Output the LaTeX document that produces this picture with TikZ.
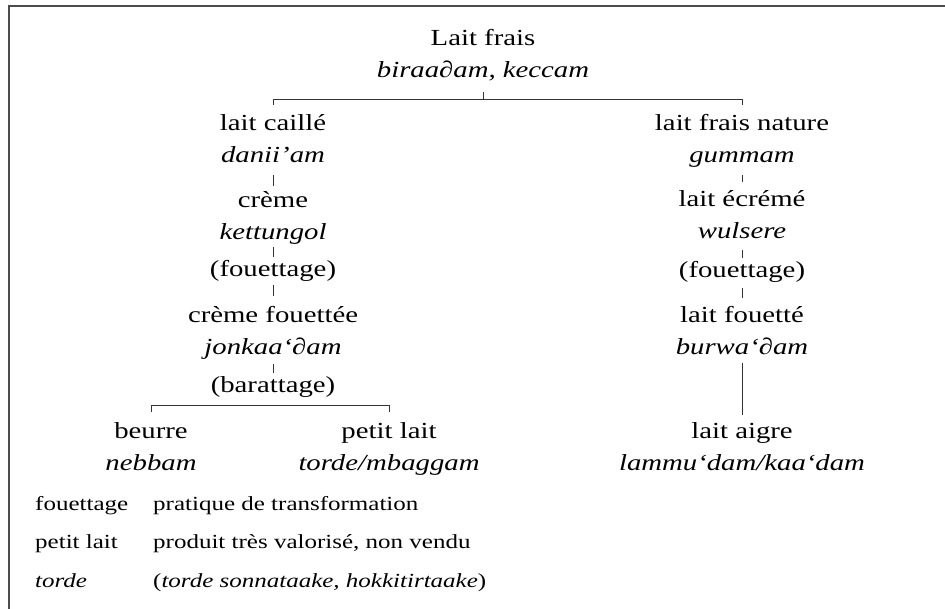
\documentclass[tikz,border=0pt]{standalone}
\usepackage{fontspec}
\setmainfont[FakeStretch=1.25]{Liberation Serif}
\begin{document}
\begin{tikzpicture}[x=1pt,y=-1pt,
  term/.style={align=center,inner sep=0pt,anchor=base,font=\fontsize{23}{32}\selectfont,text=black},
  legend/.style={anchor=base west,inner sep=0pt,font=\fontsize{20}{24}\selectfont,text=black},
  link/.style={draw=black!80,line width=1pt},
  brack/.style={draw=black!80,line width=1pt},
  frame/.style={draw=black!70,line width=1.8pt}]
\useasboundingbox (0,0) rectangle (945,609);
\coordinate (f0) at (9,6);
\coordinate (f1) at (945,6);
\coordinate (f2) at (9,609);
\draw[frame] (f2) -- (f0) -- (f1);
% nodes (anchored at the baseline of their last line)
\node[term] (top) at (483,78) {\strut Lait frais\\\strut\textit{biraa∂am, keccam}};
\node[term] (lc) at (273,163) {\strut lait caillé\\\strut\textit{danii’am}};
\node[term] (cr) at (273,240) {\strut crème\\\strut\textit{kettungol}};
\node[term] (fa) at (273,277) {\strut(fouettage)};
\node[term] (cf) at (273,355) {\strut crème fouettée\\\strut\textit{jonkaa‘∂am}};
\node[term] (ba) at (273,392) {\strut(barattage)};
\node[term] (be) at (151,470) {\strut beurre\\\strut\textit{nebbam}};
\node[term] (pl) at (389,470) {\strut petit lait\\\strut\textit{torde/mbaggam}};
\node[term] (lfn) at (742,163) {\strut lait frais nature\\\strut\textit{gummam}};
\node[term] (le) at (742,239) {\strut lait écrémé\\\strut\textit{wulsere}};
\node[term] (fb) at (742,278) {\strut(fouettage)};
\node[term] (lf) at (742,355) {\strut lait fouetté\\\strut\textit{burwa‘∂am}};
\node[term] (la) at (742,470) {\strut lait aigre\\\strut\textit{lammu‘dam/kaa‘dam}};
% connectors
\coordinate (jt) at (483,100);
\draw[brack] ([yshift=-4pt]top.south) -- (jt);
\draw[brack] ([yshift=3pt]lc.north) -- (lc.north |- jt) -- (lfn.north |- jt) -- ([yshift=3pt]lfn.north);
\draw[link,shorten <=2.4pt,shorten >=-0.5pt] (lc) -- (cr);
\draw[link,shorten <=-2.6pt,shorten >=-2.4pt] (cr) -- (fa);
\draw[link,shorten <=-1.4pt,shorten >=4.6pt] (fa) -- (cf);
\draw[link,shorten <=-0.4pt,shorten >=-3.4pt] (cf) -- (ba);
\coordinate (jb) at ([yshift=-3.5pt]ba.south);
\draw[brack] ([yshift=3pt]be.north) -- (be.north |- jb) -- (pl.north |- jb) -- ([yshift=3pt]pl.north);
\draw[link,shorten <=2.4pt,shorten >=2.6pt] (lfn) -- (le);
\draw[link,shorten <=1.4pt,shorten >=-2.4pt] (le) -- (fb);
\draw[link,shorten <=0.4pt,shorten >=2.6pt] (fb) -- (lf);
\draw[brack,shorten <=-2pt] (lf) -- (la);
% legend
\node[legend] (k1) at (35,510) {fouettage};
\node[legend] (d1) at (153,510) {pratique de transformation};
\node[legend] (k2) at (35,548) {petit lait};
\node[legend] (d2) at (153,548) {produit très valorisé, non vendu};
\node[legend] (k3) at (35,587) {\textit{torde}};
\node[legend] (d3) at (153,587) {(\textit{torde sonnataake, hokkitirtaake})};
\end{tikzpicture}
\end{document}
